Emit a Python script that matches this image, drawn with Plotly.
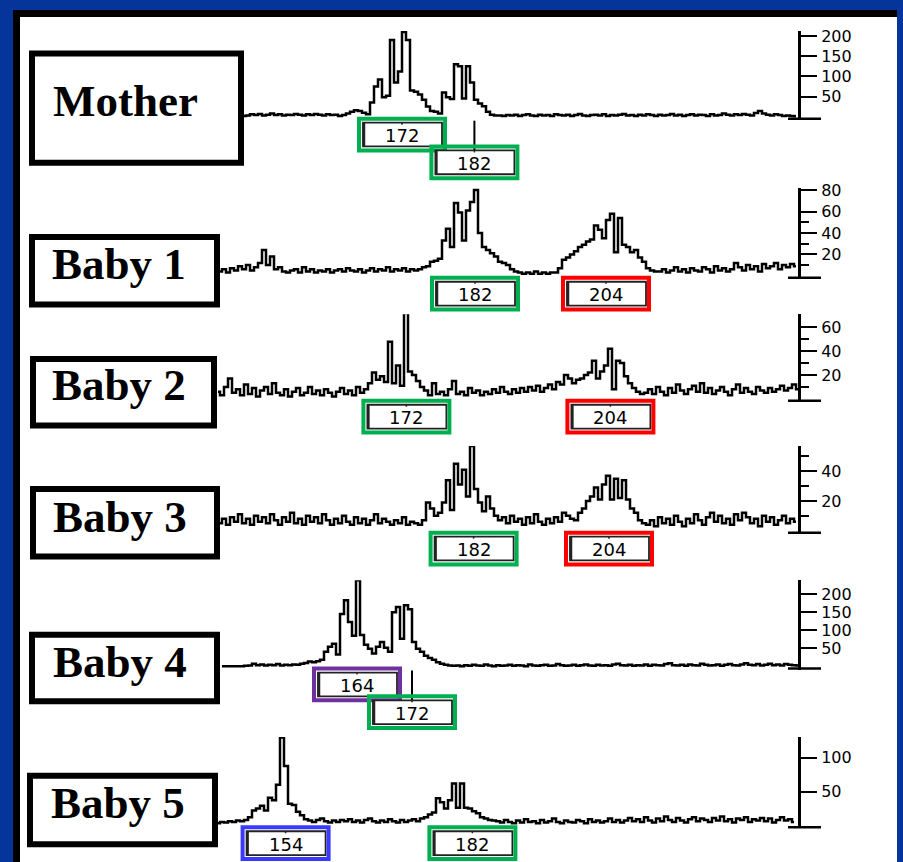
import plotly.graph_objects as go

W, H = 903, 862

# ---------------- data ----------------
panel_names = ["Mother", "Baby 1", "Baby 2", "Baby 3", "Baby 4", "Baby 5"]
# first scan point of each trace (scan units)
trace_start = [61, 55, 54.5, 55, 55.5, 54.5]

mother_rfu = [2, 3, 6, 4, 7, 3, 5, 8, 4, 6, 3, 5, 4, 7, 5, 3, 6, 4, 7, 5,
              3, 6, 4, 5, 2, 4, 8, 12, 16, 14, 10, 6, 35, 75, 92, 48, 52, 190, 85, 112,
              210, 190, 65, 62, 55, 42, 25, 14, 12, 8, 60, 48, 44, 130, 125, 45, 125, 85, 42, 33,
              26, 12, 5, 3,
              3, 2, 4, 3, 5, 2, 4, 6, 3, 2, 5, 3, 4, 2, 6, 4, 3, 5, 2, 4,
              7, 3, 2, 4, 5, 3, 6, 2, 4, 3, 5, 7, 3, 4, 2, 5, 3, 6, 4, 2,
              5, 3, 4, 7, 3, 5, 2, 4, 6, 3, 5, 4, 2, 6, 3, 4, 8, 5, 3, 6,
              4, 7, 5, 3, 9, 14, 8, 5, 3, 6, 4, 2, 3, 2, 1]

baby1_rfu = [4, 6, 3, 7, 5, 9, 6, 10, 5, 8, 12, 24, 10, 18, 6, 8, 4, 3, 5, 6,
             3, 8, 4, 6, 3, 5, 4, 6, 3, 5, 6, 4, 7, 5, 4, 6, 3, 5, 7, 4,
             6, 5, 8, 4, 6, 5, 7, 4, 6, 5, 6, 8, 9, 13, 14, 16, 33, 44, 27, 68,
             59, 33, 61, 69, 80, 40, 27, 24, 21, 18, 13, 12, 10, 6, 4, 3, 2, 3, 2, 4,
             2, 3, 2, 3, 3, 7, 15, 17, 20, 23, 27, 29, 32, 34, 47, 43, 35, 52, 58, 22,
             54, 29, 27, 22, 24, 17, 13, 7, 5, 4,
             4, 6, 3, 5, 8, 4, 6, 3, 7, 5, 4, 8, 6, 3, 9, 5, 7, 4, 6, 12,
             8, 5, 10, 6, 9, 4, 11, 7, 9, 12, 6, 10, 8, 11, 9]

baby2_rfu = [6, 3, 10, 17, 5, 8, 3, 12, 4, 9, 2, 7, 10, 4, 13, 5, 3, 8, 2, 6,
             9, 3, 5, 10, 4, 7, 3, 8, 5, 2, 6, 9, 4, 7, 3, 10, 5, 8, 13, 22,
             16, 19, 14, 48, 13, 28, 11, 72, 23, 20, 15, 10, 7, 3, 13, 4, 6, 3, 8, 15,
             4, 6, 3, 9, 5, 7, 3, 6, 4, 8, 5, 10, 6, 4, 8, 5, 9, 6, 10, 7,
             11, 6, 9, 12, 8, 14, 12, 20, 17, 13, 16, 17, 20, 22, 32, 17, 23, 28, 42, 8,
             32, 30, 19, 13, 9, 6, 4,
             5, 8, 4, 10, 6, 3, 9, 5, 12, 7, 4, 8, 11, 6, 13, 5, 9, 4, 7, 10,
             6, 3, 8, 12, 5, 9, 6, 4, 10, 7, 5, 9, 6, 8, 11, 7, 9, 12, 8]

baby3_rfu = [5, 8, 4, 9, 6, 11, 5, 8, 4, 10, 6, 9, 5, 11, 7, 4, 9, 6, 12, 5,
             8, 4, 10, 6, 9, 5, 11, 7, 4, 8, 5, 10, 6, 4, 9, 5, 8, 4, 7, 11,
             5, 8, 6, 4, 7, 5, 9, 4, 6, 5, 4, 7, 19, 15, 10, 12, 19, 34, 14, 45,
             31, 41, 23, 57, 28, 19, 13, 23, 15, 10, 7, 9, 5, 10, 6, 8, 4, 9, 5, 11,
             6, 4, 8, 5, 9, 6, 12, 10, 8, 7, 12, 15, 20, 23, 29, 21, 31, 37, 21, 35,
             22, 34, 21, 15, 12, 7, 5,
             4, 7, 3, 9, 5, 8, 4, 10, 6, 3, 8, 5, 11, 7, 4, 9, 12, 6, 10, 5,
             8, 4, 11, 7, 12, 9, 5, 8, 3, 10, 6, 9, 4, 7, 10, 5, 8, 6]

baby4_rfu = [1, 1, 1, 1, 1, 1, 2, 3, 8, 4, 6, 3, 5, 4, 7, 3, 5, 4, 6, 5,
             8, 10, 14, 12, 15, 19, 41, 55, 63, 33, 145, 183, 123, 85, 238, 87, 60, 49, 36, 55,
             68, 52, 41, 150, 164, 77, 169, 158, 68, 49, 41, 30, 24, 19, 12, 8, 5, 3,
             2, 3, 1, 4, 2, 5, 3, 2, 6, 3, 1, 4, 2, 3, 5, 2, 4, 3, 1, 6,
             3, 2, 4, 5, 2, 3, 7, 4, 2, 3, 5, 2, 4, 6, 3, 2, 5, 3, 4, 2,
             6, 8, 4, 3, 5, 2, 4, 3, 6, 2, 5, 4, 3, 7, 9, 4, 3, 5, 2, 6,
             4, 3, 8, 5, 3, 4, 6, 2, 5, 7, 4, 3, 6, 9, 5, 4, 7, 3, 5, 8,
             4, 6, 3, 7, 5, 4, 3]

baby5_rfu = [3, 5, 4, 6, 5, 7, 6, 8, 12, 22, 25, 29, 22, 41, 37, 60, 130, 88, 32, 30,
             20, 15, 9, 7, 5, 8, 10, 6, 4, 7, 5, 8, 6, 9, 5, 7, 4, 8, 10, 6,
             4, 7, 5, 9, 6, 4, 8, 5, 7, 9, 6, 10, 12, 16, 19, 40, 34, 25, 37, 62,
             26, 62, 26, 25, 21, 18, 12, 10, 8, 7,
             6, 4, 8, 5, 3, 7, 4, 9, 5, 6, 3, 8, 4, 6, 10, 5, 3, 7, 5, 4,
             8, 6, 3, 9, 5, 7, 4, 6, 10, 5, 8, 4, 7, 11, 6, 9, 5, 12, 7, 4,
             10, 6, 13, 8, 5, 11, 7, 4, 9, 12, 6, 10, 8, 5, 11, 7, 13, 6, 9, 4,
             10, 8, 12, 5, 9, 7, 11, 6, 10, 4, 8, 12, 7, 9, 5]

rfu_series = [mother_rfu, baby1_rfu, baby2_rfu, baby3_rfu, baby4_rfu, baby5_rfu]

rfu_ticks = [[50, 100, 150, 200], [20, 40, 60, 80], [20, 40, 60], [20, 40],
             [50, 100, 150, 200], [50, 100]]
rfu_minor_ticks = [[], [10, 30, 50], [10, 30, 50], [10, 30, 50], [], []]
rfu_axis_top = [212, 82, 71, 57, 238, 131]

allele_panel = [0, 0, 1, 1, 2, 2, 3, 3, 4, 4, 5, 5]
allele_label = ["172", "182", "182", "204", "172", "204", "182", "204", "164", "172", "154", "182"]
allele_scan = [100.5, 118.6, 118.75, 151.5, 101.6, 152.6, 118.4, 152.25, 89.25, 103, 71.4, 118.1]
allele_row = [0, 1, 0, 0, 0, 0, 0, 0, 0, 1, 0, 0]

# ---------------- style / layout ----------------
BLUE = "#05349a"
allele_colors = {"172": "#00b050", "182": "#00b050", "204": "#ff0000",
                 "164": "#7030a0", "154": "#3a3aff"}

SCAN_PX = 4.0                        # pixels per scan unit
panel_zero_px = [110.6, 271, 395, 528, 665, 825]
panel_px_per_unit = [0.407, 1.08, 1.2, 1.5, 0.366, 0.68]
axis_x_px = 799
name_boxes = [(32, 47, 241, 157), (32, 232, 217, 300), (33, 355, 214, 422),
              (33, 486, 217, 554), (32, 633, 217, 700), (30, 775, 215, 844)]
name_centers = [(125.5, 95), (118.5, 259), (119, 381), (120, 514), (120, 660), (117.5, 803)]


def fx(px):
    return px / W


def fy(py):
    return 1 - py / H


fig = go.Figure()
layout_axes = {}
for p, series in enumerate(rfu_series):
    ax = "y" if p == 0 else f"y{p+1}"
    axkey = "yaxis" if p == 0 else f"yaxis{p+1}"
    xs = [trace_start[p] + i for i in range(len(series))]
    fig.add_trace(go.Scatter(x=xs, y=series, mode="lines", xaxis="x", yaxis=ax,
                             line=dict(color="black", width=2.5, shape="hvh"),
                             hoverinfo="skip", showlegend=False))
    k = panel_px_per_unit[p]
    z = panel_zero_px[p]
    ymin = -3.0 / k
    top_px = z - rfu_axis_top[p] * k
    minor = dict(ticks="")
    if rfu_minor_ticks[p]:
        minor = dict(tickmode="array", tickvals=rfu_minor_ticks[p], ticks="outside",
                     ticklen=8, tickwidth=2, tickcolor="black")
    layout_axes[axkey] = dict(
        domain=[fy(z + 3), fy(top_px)], range=[ymin, rfu_axis_top[p]],
        anchor="free", position=fx(axis_x_px), side="right",
        showline=True, linecolor="black", linewidth=3,
        ticks="outside", ticklen=16, tickwidth=2, tickcolor="black",
        tickmode="array", tickvals=rfu_ticks[p], ticktext=[str(v) for v in rfu_ticks[p]],
        tickfont=dict(family="DejaVu Sans", size=16, color="black"),
        ticklabelstandoff=1,
        showgrid=False, zeroline=False, fixedrange=True, minor=minor)

shapes = [
    dict(type="rect", xref="paper", yref="paper", x0=fx(20), x1=fx(897), y0=fy(10), y1=fy(H),
         fillcolor="white", line=dict(width=0), layer="below"),
    dict(type="rect", xref="paper", yref="paper", x0=fx(13), x1=fx(897), y0=fy(3), y1=fy(10),
         fillcolor="black", line=dict(width=0), layer="below"),
    dict(type="rect", xref="paper", yref="paper", x0=fx(13), x1=fx(20), y0=fy(3), y1=fy(H),
         fillcolor="black", line=dict(width=0), layer="below"),
]
annotations = []

for p, name in enumerate(panel_names):
    x0, y0, x1, y1 = name_boxes[p]
    shapes.append(dict(type="rect", xref="paper", yref="paper", x0=fx(x0), x1=fx(x1),
                       y0=fy(y0), y1=fy(y1), fillcolor="white",
                       line=dict(color="black", width=6)))
    cx, cy = name_centers[p]
    annotations.append(dict(xref="paper", yref="paper", x=fx(cx), y=fy(cy), text=name,
                            showarrow=False, xanchor="center", yanchor="middle",
                            font=dict(family="Liberation Serif", size=45, color="black",
                                      weight="bold")))
    # baseline stub of the RFU axis
    z = panel_zero_px[p]
    shapes.append(dict(type="line", xref="paper", yref="paper", x0=fx(788), x1=fx(821),
                       y0=fy(z + 2), y1=fy(z + 2), line=dict(color="black", width=2.5)))

for j, lab in enumerate(allele_label):
    p = allele_panel[j]
    yref = "y" if p == 0 else f"y{p+1}"
    z = panel_zero_px[p]
    off = 28 * allele_row[j]
    col = allele_colors[lab]
    common = dict(xref="x", yref="paper", xsizemode="pixel", xanchor=allele_scan[j])
    if allele_row[j] > 0:
        shapes.append(dict(type="line", x0=0, x1=0, y0=fy(z + 4), y1=fy(z + off + 6),
                           line=dict(color="black", width=2), **common))
    shapes.append(dict(type="rect", x0=-39, x1=40, y0=fy(z + off + 6), y1=fy(z + off + 30),
                       fillcolor="white", line=dict(color="#222222", width=1.8), **common))
    shapes.append(dict(type="line", x0=-38, x1=-38, y0=fy(z + off + 6), y1=fy(z + off + 30),
                       line=dict(color="#222222", width=2.5), **common))
    shapes.append(dict(type="line", x0=0, x1=0, y0=fy(z + off + 6), y1=fy(z + off + 8),
                       line=dict(color="#222222", width=1.5), **common))
    shapes.append(dict(type="rect", x0=-43, x1=43, y0=fy(z + off + 2), y1=fy(z + off + 34),
                       line=dict(color=col, width=4), **common))
    annotations.append(dict(x=allele_scan[j], y=0, xref="x", yref=yref, text=lab,
                            showarrow=False, xanchor="center", yanchor="middle",
                            yshift=-(off + 19),
                            font=dict(family="DejaVu Sans", size=18, color="black")))

fig.update_layout(
    width=W, height=H, margin=dict(l=0, r=0, t=0, b=0),
    paper_bgcolor=BLUE, plot_bgcolor="rgba(0,0,0,0)",
    xaxis=dict(domain=[0, 1], range=[0, W / SCAN_PX], visible=False, fixedrange=True),
    shapes=shapes, annotations=annotations, showlegend=False,
    **layout_axes,
)

fig.write_html("out.html", include_plotlyjs=True, config={"displayModeBar": False})
